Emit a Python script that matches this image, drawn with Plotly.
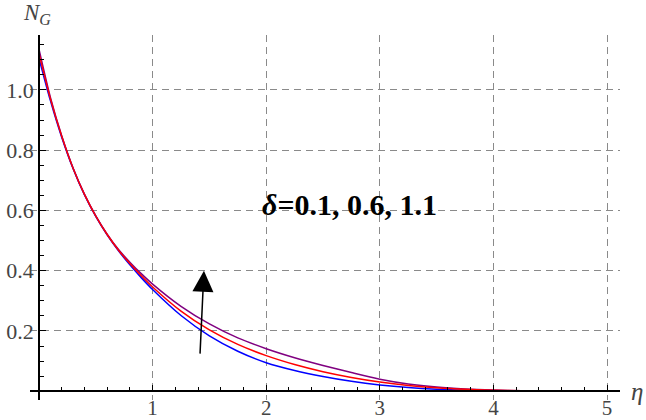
import plotly.graph_objects as go

# eta grid points
eta = [0.0, 0.1, 0.2, 0.3, 0.4, 0.5, 0.6, 0.7, 0.8, 0.9, 1.0,
       1.25, 1.5, 1.75, 2.0, 2.25, 2.5, 2.75, 3.0, 3.25, 3.5, 3.75, 4.0, 4.25, 4.5, 5.0]

# N_G for delta = 0.1 (blue)
ng_d01 = [1.105, 0.965, 0.843, 0.739, 0.652, 0.580, 0.519, 0.466, 0.4195, 0.377, 0.3375,
          0.2513, 0.1838, 0.1328, 0.0948, 0.069, 0.049, 0.033, 0.021, 0.0125, 0.007, 0.0037,
          0.0018, 0.0008, 0.0003, 0.0]
# N_G for delta = 0.6 (red)
ng_d06 = [1.120, 0.971, 0.846, 0.740, 0.653, 0.581, 0.520, 0.468, 0.4235, 0.3832, 0.346,
          0.266, 0.2036, 0.1554, 0.1181, 0.0886, 0.0648, 0.0457, 0.0306, 0.0193, 0.0114, 0.0063,
          0.0033, 0.0016, 0.0007, 0.0]
# N_G for delta = 1.1 (purple)
ng_d11 = [1.135, 0.976, 0.848, 0.741, 0.654, 0.582, 0.521, 0.470, 0.4283, 0.3902, 0.3556,
          0.2818, 0.2234, 0.1770, 0.1413, 0.1114, 0.0857, 0.0619, 0.040, 0.0243, 0.0140, 0.0076,
          0.0039, 0.0018, 0.0008, 0.0]

x_ticks = [1, 2, 3, 4, 5]
x_tick_labels = ["1", "2", "3", "4", "5"]
y_ticks = [0.2, 0.4, 0.6, 0.8, 1.0]
y_tick_labels = ["0.2", "0.4", "0.6", "0.8", "1.0"]

label_text = "<b><i>δ</i>=0.1, 0.6, 1.1</b>"

series = [
    (ng_d11, "#800080", "δ=1.1"),
    (ng_d01, "#0000ff", "δ=0.1"),
    (ng_d06, "#ff0000", "δ=0.6"),
]

fig = go.Figure()
for vals, col, name in series:
    fig.add_trace(go.Scatter(
        x=eta, y=vals, mode="lines", name=name,
        line=dict(color=col, width=1.5, shape="spline", smoothing=0.8),
        hoverinfo="skip",
    ))

xr = [-0.079, 5.114]
yr = [-0.029, 1.182]

tickfont_y = dict(family="Liberation Serif", size=22, color="#444444")
tickfont_x = dict(family="Liberation Serif", size=21, color="#444444")

fig.update_layout(
    width=646, height=420,
    margin=dict(l=30, r=26, t=35, b=20, autoexpand=False),
    paper_bgcolor="white", plot_bgcolor="white",
    showlegend=False,
    xaxis=dict(
        range=xr, anchor="free", position=(0 - yr[0]) / (yr[1] - yr[0]),
        automargin=False,
        tickvals=x_ticks, ticktext=x_tick_labels,
        showline=True, linecolor="black", linewidth=1.5,
        ticks="inside", ticklen=6, tickwidth=1, tickcolor="black",
        ticklabelstandoff=-2,
        minor=dict(dtick=0.2, tick0=0, ticks="inside", ticklen=4, tickwidth=1,
                   tickcolor="black", showgrid=False),
        showgrid=True, gridcolor="#8a8a8a", gridwidth=1.2, griddash="7px,5px",
        zeroline=False, tickfont=tickfont_x,
    ),
    yaxis=dict(
        range=yr, anchor="free", position=(0 - xr[0]) / (xr[1] - xr[0]),
        automargin=False,
        tickvals=y_ticks, ticktext=y_tick_labels,
        showline=True, linecolor="black", linewidth=1.5,
        ticks="inside", ticklen=6, tickwidth=1, tickcolor="black",
        minor=dict(dtick=0.05, tick0=0, ticks="inside", ticklen=4, tickwidth=1,
                   tickcolor="black", showgrid=False),
        showgrid=True, gridcolor="#8a8a8a", gridwidth=1.2, griddash="7px,5px",
        zeroline=False, tickfont=tickfont_y,
    ),
)

# arrow indicating increasing delta
fig.add_annotation(
    x=1.452, y=0.40, ax=1.417, ay=0.12,
    xref="x", yref="y", axref="x", ayref="y",
    showarrow=True, arrowhead=2, arrowsize=2.8, arrowwidth=1.5, arrowcolor="black",
    text="",
)

# parameter label
fig.add_annotation(
    x=2.73, y=0.618, xref="x", yref="y", text=label_text, showarrow=False,
    xanchor="center", yanchor="middle",
    font=dict(family="Liberation Serif", size=30, color="black"),
)

# axis labels
fig.add_annotation(
    x=0.012, y=1.058, xref="paper", yref="paper",
    text="<i>N</i><sub><i>G</i></sub>", showarrow=False,
    xanchor="center", yanchor="middle",
    font=dict(family="Liberation Serif", size=23, color="#444444"),
)
fig.add_annotation(
    x=1.029, y=0.022, xref="paper", yref="paper",
    text="<i>η</i>", showarrow=False,
    xanchor="center", yanchor="middle",
    font=dict(family="Liberation Serif", size=25, color="#444444"),
)

fig.write_html(
    "out.html",
    config={"displayModeBar": False},
    post_script="document.body.style.margin='0';document.body.style.padding='0';",
)
